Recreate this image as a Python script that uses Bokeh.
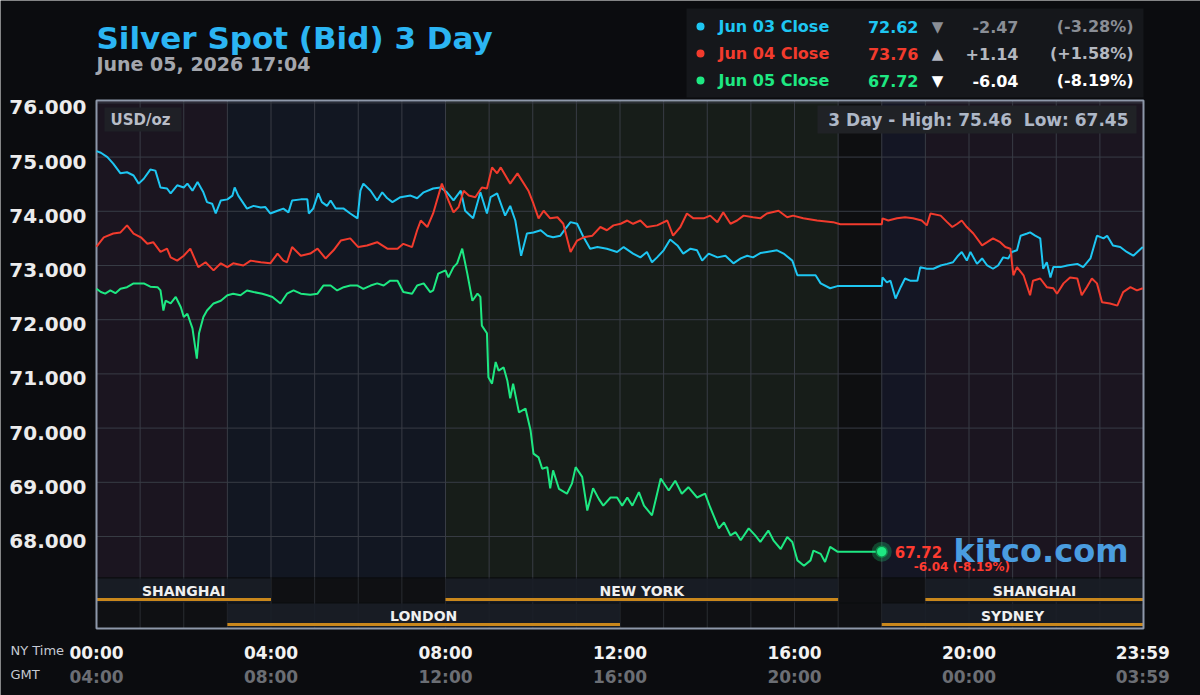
from bokeh.plotting import figure
from bokeh.models import Range1d
from bokeh.core.properties import value
from bokeh.embed import file_html
from bokeh.resources import INLINE

# ---------------- data (minutes after 00:00 NY time, USD/oz) ----------------
jun03_t = [0, 6, 15, 23, 33, 42, 51, 58, 65, 74, 81, 88, 97, 102, 111, 120, 125, 132, 139, 147,
           152, 159, 164, 171, 180, 187, 190, 195, 207, 216, 226, 232, 239, 249, 257, 264, 269,
           281, 290, 292, 298, 305, 310, 317, 322, 329, 340, 349, 359, 363, 367, 377, 386, 393,
           400, 407, 418, 432, 441, 450, 463, 473, 482, 491, 501, 507, 518, 528, 537, 542, 551,
           562, 569, 576, 584, 592, 601, 611, 620, 628, 638, 645, 652, 661, 670, 679, 689, 702,
           716, 725, 738, 748, 757, 764, 771, 780, 789, 799, 807, 817, 826, 833, 842, 854, 865,
           876, 886, 895, 903, 913, 922, 936, 945, 957, 964, 977, 989, 996, 1009, 1019, 1080,
           1081, 1087, 1092, 1099, 1106, 1112, 1119, 1129, 1133, 1142, 1151, 1161, 1170, 1178,
           1185, 1190, 1197, 1202, 1211, 1218, 1225, 1233, 1240, 1247, 1254, 1259, 1266, 1271,
           1280, 1284, 1291, 1298, 1302, 1307, 1312, 1316, 1326, 1335, 1349, 1357, 1367, 1376,
           1385, 1390, 1398, 1408, 1417, 1426, 1439]
jun03_v = [75.11, 75.08, 75.00, 74.88, 74.70, 74.72, 74.66, 74.51, 74.60, 74.77, 74.75, 74.44,
           74.42, 74.33, 74.48, 74.44, 74.51, 74.38, 74.54, 74.35, 74.17, 74.14, 73.96, 74.20,
           74.22, 74.29, 74.44, 74.29, 74.05, 74.10, 74.07, 74.08, 73.96, 74.01, 74.05, 73.98,
           74.20, 74.22, 74.22, 73.96, 74.05, 74.33, 74.17, 74.10, 74.20, 74.05, 74.05, 73.96,
           73.87, 74.38, 74.51, 74.38, 74.20, 74.35, 74.24, 74.17, 74.26, 74.29, 74.24, 74.35,
           74.42, 74.44, 74.35, 74.20, 74.38, 74.01, 73.87, 74.35, 73.96, 74.26, 74.33, 73.92,
           74.10, 73.83, 73.18, 73.59, 73.61, 73.65, 73.55, 73.52, 73.55, 73.68, 73.80, 73.77,
           73.52, 73.31, 73.34, 73.31, 73.25, 73.34, 73.22, 73.15, 73.25, 73.06, 73.15, 73.28,
           73.48, 73.37, 73.22, 73.31, 73.28, 73.09, 73.22, 73.15, 73.18, 73.04, 73.13, 73.18,
           73.15, 73.23, 73.25, 73.28, 73.22, 73.09, 72.82, 72.82, 72.82, 72.67, 72.58, 72.62,
           72.62, 72.78, 72.69, 72.72, 72.39, 72.60, 72.76, 72.72, 72.72, 72.97, 72.94, 72.94,
           73.00, 73.03, 73.06, 73.18, 73.25, 73.09, 73.25, 73.03, 73.13, 73.00, 72.94, 73.00,
           73.15, 73.13, 73.25, 73.28, 73.55, 73.59, 73.61, 73.55, 73.50, 72.94, 73.06, 72.78,
           72.97, 72.97, 73.00, 73.03, 72.97, 73.13, 73.55, 73.50, 73.55, 73.37, 73.34, 73.25,
           73.18, 73.34]

jun04_t = [0, 10, 23, 33, 42, 51, 61, 70, 78, 88, 97, 102, 111, 120, 129, 140, 150, 161, 171,
           180, 188, 202, 212, 226, 239, 249, 257, 262, 269, 281, 294, 304, 315, 326, 336, 349,
           360, 372, 386, 400, 414, 422, 434, 441, 446, 455, 463, 475, 484, 491, 498, 505, 512,
           521, 530, 537, 544, 551, 556, 569, 579, 585, 594, 601, 608, 615, 624, 634, 642, 652,
           661, 670, 682, 693, 702, 711, 721, 730, 738, 748, 757, 771, 785, 793, 803, 812, 821,
           835, 844, 854, 862, 872, 881, 890, 903, 913, 922, 938, 950, 958, 972, 991, 1013, 1023,
           1080, 1081, 1089, 1101, 1112, 1123, 1135, 1142, 1147, 1161, 1170, 1177, 1184, 1190,
           1197, 1206, 1218, 1225, 1233, 1243, 1250, 1257, 1261, 1266, 1275, 1284, 1288, 1298,
           1307, 1316, 1321, 1330, 1339, 1349, 1355, 1362, 1369, 1376, 1383, 1394, 1404, 1412,
           1422, 1431, 1439]
jun04_v = [73.35, 73.52, 73.59, 73.61, 73.74, 73.59, 73.52, 73.40, 73.43, 73.25, 73.31, 73.15,
           73.09, 73.18, 73.31, 72.97, 73.06, 72.91, 73.04, 72.97, 73.04, 73.00, 73.09, 73.06,
           73.04, 73.22, 73.09, 73.06, 73.34, 73.18, 73.22, 73.31, 73.13, 73.28, 73.46, 73.50,
           73.34, 73.37, 73.43, 73.31, 73.31, 73.40, 73.34, 73.65, 73.83, 73.71, 73.96, 74.51,
           74.20, 73.98, 74.08, 74.38, 74.29, 74.26, 74.44, 74.42, 74.81, 74.70, 74.81, 74.51,
           74.70, 74.57, 74.38, 74.14, 73.87, 74.01, 73.87, 73.89, 73.77, 73.25, 73.46, 73.52,
           73.55, 73.71, 73.65, 73.74, 73.77, 73.83, 73.77, 73.83, 73.71, 73.74, 73.83, 73.55,
           73.71, 73.96, 73.87, 73.87, 73.92, 73.80, 73.98, 73.77, 73.83, 73.92, 73.89, 73.87,
           73.96, 74.01, 73.89, 73.92, 73.87, 73.83, 73.80, 73.76, 73.76, 73.87, 73.83, 73.87,
           73.89, 73.87, 73.83, 73.74, 73.96, 73.92, 73.80, 73.71, 73.77, 73.83, 73.71, 73.59,
           73.37, 73.43, 73.50, 73.43, 73.34, 73.31, 72.82, 72.97, 72.82, 72.45, 72.72, 72.76,
           72.60, 72.58, 72.48, 72.67, 72.78, 72.76, 72.45, 72.60, 72.76, 72.67, 72.32, 72.30,
           72.26, 72.51, 72.60, 72.54, 72.58]

jun05_t = [0, 6, 12, 19, 26, 33, 42, 51, 58, 65, 74, 84, 88, 92, 95, 102, 109, 116, 120, 125,
           132, 138, 141, 147, 152, 161, 171, 180, 188, 198, 207, 216, 228, 235, 242, 253, 262,
           271, 281, 294, 304, 312, 322, 331, 340, 349, 359, 367, 377, 386, 395, 404, 414, 422,
           434, 441, 450, 459, 463, 470, 480, 484, 491, 496, 503, 510, 517, 524, 528, 530, 537,
           539, 544, 549, 553, 560, 565, 569, 573, 581, 590, 597, 601, 608, 613, 620, 624, 628,
           636, 647, 654, 659, 668, 675, 683, 691, 697, 707, 716, 723, 730, 737, 746, 753, 764,
           776, 787, 796, 805, 814, 826, 837, 844, 856, 863, 872, 879, 886, 897, 906, 913, 924,
           931, 941, 950, 957, 964, 973, 982, 986, 996, 1002, 1009, 1019, 1080]
jun05_v = [72.57, 72.51, 72.48, 72.54, 72.49, 72.57, 72.60, 72.67, 72.67, 72.67, 72.61, 72.60,
           72.54, 72.17, 72.35, 72.30, 72.42, 72.23, 72.05, 72.11, 71.84, 71.28, 71.75, 72.05,
           72.17, 72.30, 72.35, 72.45, 72.48, 72.45, 72.54, 72.51, 72.48, 72.45, 72.42, 72.30,
           72.48, 72.54, 72.48, 72.46, 72.48, 72.63, 72.63, 72.54, 72.60, 72.63, 72.63, 72.57,
           72.63, 72.67, 72.63, 72.72, 72.72, 72.51, 72.48, 72.63, 72.67, 72.51, 72.54, 72.85,
           72.91, 72.78, 72.97, 73.04, 73.31, 72.85, 72.35, 72.48, 72.42, 71.89, 71.75, 70.94,
           70.82, 71.22, 71.06, 71.12, 70.88, 70.55, 70.82, 70.29, 70.36, 69.96, 69.53, 69.46,
           69.25, 69.28, 68.89, 69.22, 68.88, 68.79, 68.98, 69.28, 69.10, 68.48, 68.89, 68.69,
           68.57, 68.72, 68.72, 68.57, 68.72, 68.57, 68.82, 68.57, 68.39, 69.07, 68.85, 69.03,
           68.79, 68.91, 68.72, 68.79, 68.54, 68.15, 68.26, 68.02, 68.08, 67.93, 68.15, 68.02,
           67.90, 68.11, 67.93, 67.77, 67.99, 67.90, 67.56, 67.46, 67.56, 67.74, 67.68, 67.53,
           67.81, 67.72, 67.72]

legend_names = ["Jun 03 Close", "Jun 04 Close", "Jun 05 Close"]
legend_close = [72.62, 73.76, 67.72]
legend_change = [-2.47, 1.14, -6.04]
legend_pct = [-3.28, 1.58, -8.19]
high_3day, low_3day = 75.46, 67.45

y_ticks = [68, 69, 70, 71, 72, 73, 74, 75, 76]
x_ticks = [0, 240, 480, 720, 960, 1200, 1439]
ny_labels = ["00:00", "04:00", "08:00", "12:00", "16:00", "20:00", "23:59"]
gmt_labels = ["04:00", "08:00", "12:00", "16:00", "20:00", "00:00", "03:59"]
hour_lines = list(range(0, 1441, 60))

# market background zones (minutes)
zone_start = [0, 180, 480, 1020, 1080, 1140]
zone_end = [180, 480, 1020, 1080, 1140, 1440]
zone_color = ["#1b1520", "#121722", "#171d19", "#0e0f11", "#141624", "#1b1520"]

# trading sessions
sess_name = ["SHANGHAI", "LONDON", "NEW YORK", "SYDNEY", "SHANGHAI"]
sess_start = [0, 180, 480, 1080, 1140]
sess_end = [240, 720, 1020, 1440, 1440]
sess_row = [0, 1, 0, 1, 0]

# ---------------- layout ----------------
FONT = "DejaVu Sans"
W, H = 1200, 695
FL, FR, FT, FB = 96, 1143, 100, 628          # plot area on the page
X0, X1 = 0, 1440                              # minutes
Y0, Y1 = 66.303, 76.044                       # USD/oz at plot bottom / top
PAGE_BG = "#0b0c0f"
C03, C04, C05 = "#1ec6f2", "#f23b2d", "#1ee882"


def xd(px):
    return X0 + (px - FL) * (X1 - X0) / (FR - FL)


def yd(py):
    return Y1 - (py - FT) * (Y1 - Y0) / (FB - FT)


p = figure(width=W, height=H, output_backend="svg", toolbar_location=None,
           x_range=Range1d(xd(0), xd(W)), y_range=Range1d(yd(H), yd(0)),
           x_axis_type=None, y_axis_type=None,
           min_border=0, min_border_left=0, min_border_right=0,
           min_border_top=0, min_border_bottom=0)
p.background_fill_color = PAGE_BG
p.border_fill_color = PAGE_BG
p.outline_line_color = None
p.grid.visible = False

T = dict(text_font=value(FONT), text_font_style="bold")

# ---- header: title / date ----
p.text(x=[xd(96)], y=[yd(37)], text=["Silver Spot (Bid) 3 Day"], text_font_size="31px",
       text_color="#2bb5f3", text_baseline="alphabetic", **T)
p.text(x=[xd(96)], y=[yd(63)], text=["June 05, 2026 17:04"], text_font_size="19px",
       text_color="#a3a6ad", text_baseline="alphabetic", **T)

# ---- header: legend ----
p.quad(left=[xd(686)], right=[xd(1143)], top=[yd(8)], bottom=[yd(97)],
       fill_color="#15171b", line_color=None)
row_y = [yd(26), yd(53), yd(80)]
series_colors = [C03, C04, C05]
change_colors = ["#8a8e96", "#b4b8c0", "#ffffff"]
p.scatter(x=[xd(700)] * 3, y=row_y, size=8, fill_color=series_colors, line_color=None)
L = dict(text_font_size="16px", text_baseline="middle", **T)
p.text(x=[xd(718)] * 3, y=row_y, text=legend_names, text_color=series_colors, **L)
p.text(x=[xd(918)] * 3, y=row_y, text=[f"{c:.2f}" for c in legend_close],
       text_color=series_colors, text_align="right", **L)
p.text(x=[xd(937)] * 3, y=row_y, text=["\u25bc" if c < 0 else "\u25b2" for c in legend_change],
       text_color=change_colors, text_align="center", text_font=value(FONT),
       text_font_size="15px", text_baseline="middle")
p.text(x=[xd(1018)] * 3, y=row_y, text=[f"{c:+.2f}" for c in legend_change],
       text_color=change_colors, text_align="right", **L)
p.text(x=[xd(1133)] * 3, y=row_y, text=[f"({c:+.2f}%)" for c in legend_pct],
       text_color=change_colors, text_align="right", **L)

# ---- plot area backgrounds and grid ----
price_bottom = yd(577)
p.quad(left=zone_start, right=zone_end, top=Y1, bottom=price_bottom,
       fill_color=zone_color, line_color=None)
p.segment(x0=[X0] * len(y_ticks), x1=[X1] * len(y_ticks), y0=y_ticks, y1=y_ticks,
          line_color="#383c45", line_width=1)
p.segment(x0=hour_lines, x1=hour_lines, y0=[Y0] * len(hour_lines), y1=[Y1] * len(hour_lines),
          line_color="#383c45", line_width=1)

# ---- session rows ----
row_top = [yd(578), yd(603)]
row_bot = [yd(602), yd(627)]
row_line = [yd(599), yd(624)]
row_text = [yd(590), yd(615)]
p.quad(left=[X0, X0], right=[X1, X1], top=[price_bottom, yd(602)], bottom=[Y0, yd(603)],
       fill_color="#0b0c0e", line_color=None)
p.quad(left=[X0, X0], right=[X1, X1], top=row_top, bottom=row_bot,
       fill_color="#0f1013", line_color=None)
p.segment(x0=hour_lines, x1=hour_lines, y0=[Y0] * len(hour_lines),
          y1=[price_bottom] * len(hour_lines), line_color="#2a2c32", line_width=1)
p.quad(left=sess_start, right=sess_end,
       top=[row_top[r] for r in sess_row], bottom=[row_bot[r] for r in sess_row],
       fill_color="#1a1e27", fill_alpha=0.9, line_color=None)
p.segment(x0=sess_start, x1=sess_end,
          y0=[row_line[r] for r in sess_row], y1=[row_line[r] for r in sess_row],
          line_color="#c9871c", line_width=3)
p.text(x=[(a + b) / 2 for a, b in zip(sess_start, sess_end)],
       y=[row_text[r] for r in sess_row], text=sess_name, text_font_size="14px",
       text_color="#f0f0f0", text_align="center", text_baseline="middle", **T)

# ---- frame outline ----
p.quad(left=[X0], right=[X1], top=[Y1], bottom=[Y0], fill_color=None,
       line_color="#8e98aa", line_width=2)

# ---- in-plot boxes ----
p.quad(left=[xd(104)], right=[xd(181)], top=[yd(107)], bottom=[yd(131)],
       fill_color="#1f2026", line_color=None)
p.text(x=[xd(110)], y=[yd(119)], text=["USD/oz"], text_font_size="15px",
       text_color="#b8bcc6", text_baseline="middle", **T)
p.quad(left=[xd(817)], right=[xd(1136)], top=[yd(105)], bottom=[yd(133)],
       fill_color="#202226", line_color=None)
p.text(x=[xd(1128)], y=[yd(119)],
       text=[f"3 Day - High: {high_3day:.2f}\u00a0 Low: {low_3day:.2f}"],
       text_font_size="17px", text_color="#aeb7c6", text_align="right",
       text_baseline="middle", **T)

# ---- series ----
p.line(jun03_t, jun03_v, line_color=C03, line_width=2)
p.line(jun04_t, jun04_v, line_color=C04, line_width=2)
p.line(jun05_t, jun05_v, line_color=C05, line_width=2)

# ---- last point marker ----
p.scatter([jun05_t[-1]], [jun05_v[-1]], size=20, fill_color=C05, fill_alpha=0.25, line_color=None)
p.scatter([jun05_t[-1]], [jun05_v[-1]], size=11, fill_color=C05, line_color="#0f8a4a",
          line_width=1.5)
p.text(x=[jun05_t[-1]], y=[jun05_v[-1]], x_offset=13, text=[f"{jun05_v[-1]:.2f}"],
       text_font_size="15px", text_color="#ff3b30", text_baseline="middle", **T)
p.text(x=[jun05_t[-1]], y=[jun05_v[-1]], x_offset=32, y_offset=15,
       text=[f"{legend_change[2]:+.2f} ({legend_pct[2]:+.2f}%)"],
       text_font_size="12px", text_color="#ff3b30", text_baseline="middle", **T)

p.text(x=[xd(1128)], y=[yd(550)], text=["kitco.com"], text_font_size="32px",
       text_color="#4a9de0", text_align="right", text_baseline="middle", **T)

# ---- axes labels ----
px_per_unit = (FB - FT) / (Y1 - Y0)
p.text(x=[xd(86)] * len(y_ticks), y=[t - 4.5 / px_per_unit for t in y_ticks],
       text=[f"{t:.3f}" for t in y_ticks], text_font_size="20px", text_color="#ececec",
       text_align="right", text_baseline="middle", **T)
p.text(x=x_ticks, y=[yd(652)] * len(x_ticks), text=ny_labels, text_font_size="17px",
       text_color="#f2f2f2", text_align="center", text_baseline="middle", **T)
p.text(x=x_ticks, y=[yd(676)] * len(x_ticks), text=gmt_labels, text_font_size="17px",
       text_color="#6b6e74", text_align="center", text_baseline="middle", **T)
p.text(x=[xd(10), xd(10)], y=[yd(650), yd(674)], text=["NY Time", "GMT"],
       text_font=value(FONT), text_font_size="13px", text_color="#c6cad2",
       text_baseline="middle")

open("out.html", "w").write(file_html(p, INLINE))
